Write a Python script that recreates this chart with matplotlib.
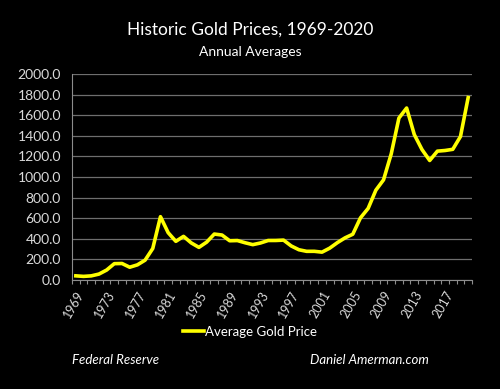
import matplotlib
matplotlib.use("Agg")
from matplotlib import pyplot as plt
import numpy as np

# annual average gold price, USD/oz
years = list(range(1969, 2021))
prices = [41.1, 35.9, 40.8, 58.2, 97.3, 159.3, 161.0, 124.8, 147.7, 193.2,
          306.7, 615.0, 460.0, 375.9, 424.0, 360.7, 317.3, 367.9, 446.5, 436.9,
          381.4, 383.5, 362.1, 343.8, 359.8, 384.0, 384.2, 387.8, 331.0, 294.2,
          278.9, 279.1, 271.0, 309.7, 363.4, 409.7, 444.7, 603.5, 695.4, 872.0,
          972.4, 1224.5, 1571.5, 1668.9, 1411.2, 1266.1, 1160.1, 1250.7, 1257.1, 1268.5,
          1392.6, 1770.0]
label_years = list(range(1969, 2021, 4))
y_ticks = [0, 200, 400, 600, 800, 1000, 1200, 1400, 1600, 1800, 2000]

plt.rcParams['font.family'] = ['Lato', 'DejaVu Sans']

fig = plt.figure(figsize=(5, 3.89), dpi=100, facecolor='black')
ax = fig.add_axes([0.144, 0.280, 0.800, 0.530], facecolor='black')

x = np.arange(len(years))
line, = ax.plot(x, prices, color='#ffff00', lw=2.6, solid_joinstyle='round',
                label='Average Gold Price')

ax.set_xlim(-0.5, len(years) - 0.5)
ax.set_ylim(0, 2000)
ax.set_yticks(y_ticks)
ax.set_yticklabels(['%.1f' % v for v in y_ticks])
ax.grid(axis='y', color='#6e6e6e', lw=0.9)
ax.set_axisbelow(True)

# category axis: tick marks at boundaries, labels every 4 years
ax.set_xticks(np.arange(len(years) + 1) - 0.5, minor=True)
ax.set_xticks([years.index(y) for y in label_years])
ax.set_xticklabels([str(y) for y in label_years], rotation=60, ha='right',
                   rotation_mode='anchor')
ax.tick_params(axis='x', which='major', length=0, pad=6, labelsize=9, colors='#d9d9d9')
ax.tick_params(axis='x', which='minor', length=3, color='#8c8c8c', width=0.8)
ax.tick_params(axis='y', length=0, pad=8, labelsize=10, colors='#d9d9d9')

for s in ['top', 'right']:
    ax.spines[s].set_visible(False)
ax.spines['left'].set_color('#8c8c8c')
ax.spines['bottom'].set_color('#8c8c8c')

fig.text(0.5, 0.925, 'Historic Gold Prices, 1969-2020', color='white',
         fontsize=12.5, ha='center', va='center')
fig.text(0.5, 0.866, 'Annual Averages', color='white', fontsize=10,
         ha='center', va='center')

fig.legend(handles=[line], loc='center', bbox_to_anchor=(0.5, 0.147),
           frameon=False, fontsize=9.5, labelcolor='white', handlelength=1.6,
           handletextpad=0.1)

fig.text(0.144, 0.075, 'Federal Reserve', color='white', fontsize=9.5,
         style='italic', ha='left', va='center')
fig.text(0.62, 0.075, 'Daniel Amerman.com', color='white', fontsize=9.5,
         style='italic', ha='left', va='center')

plt.savefig('out.png', dpi=100, facecolor='black')
